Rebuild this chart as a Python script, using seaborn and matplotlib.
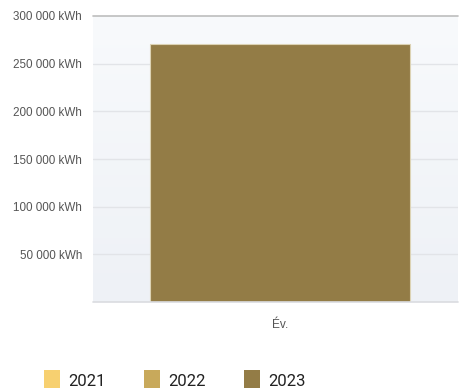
import numpy as np
import pandas as pd
import matplotlib
matplotlib.use("Agg")
import matplotlib.pyplot as plt
import seaborn as sns
from matplotlib.patches import Rectangle
from matplotlib.colors import LinearSegmentedColormap

categories = ["Év."]
years = ["2021", "2022", "2023"]
values_2021 = [0]
values_2022 = [0]
values_2023 = [270500]
colors = ["#F7D070", "#C8A95B", "#937C46"]
yticks = [50000, 100000, 150000, 200000, 250000, 300000]
ytick_labels = ["50 000 kWh", "100 000 kWh", "150 000 kWh", "200 000 kWh", "250 000 kWh", "300 000 kWh"]

rows = []
for y, vals in zip(years, [values_2021, values_2022, values_2023]):
    for c, v in zip(categories, vals):
        rows.append({"cat": c, "year": y, "value": v})
df = pd.DataFrame(rows)

sns.set_style("white")
plt.rcParams['font.family'] = ['Liberation Sans', 'DejaVu Sans']

W, H = 459, 388
fig = plt.figure(figsize=(W / 100, H / 100), dpi=100)
left, right, top, bottom = 93, 458, 16, 302
ax = fig.add_axes([left / W, 1 - bottom / H, (right - left) / W, (bottom - top) / H])

# gradient background
grad = np.linspace(0, 1, 256).reshape(-1, 1)
cmap = LinearSegmentedColormap.from_list("bg", ["#F8FAFC", "#EEF1F6"])
off = 0.012
ax.imshow(grad, aspect="auto", cmap=cmap, extent=(-0.5 - off, 0.5 - off, 0, 300000),
          origin="upper", zorder=0)

sns.barplot(data=df, x="cat", y="value", hue="year", hue_order=years, palette=colors,
            saturation=1, dodge=False, width=0.712, ax=ax, legend=False, zorder=3,
            edgecolor="#DCD3B4", linewidth=0.8)

ax.set_xlim(-0.5 - off, 0.5 - off)
ax.set_ylim(0, 300000)
for yv in yticks[:-1]:
    ax.axhline(yv, color="#E2E4E8", lw=1, zorder=1)
ax.axhline(300000, color="#BDBDBD", lw=1.2, zorder=4, clip_on=False)
ax.axhline(0, color="#DADCE0", lw=1.2, zorder=4, clip_on=False)

for s in ax.spines.values():
    s.set_visible(False)
ax.set_yticks(yticks)
ax.set_yticklabels(ytick_labels, fontsize=8.4, color="#555555")
ax.tick_params(axis="y", length=0, pad=8)
ax.tick_params(axis="x", length=0, pad=12, labelsize=8.6, labelcolor="#555555")
ax.set_xlabel("")
ax.set_ylabel("")

# legend
for i, (y, c) in enumerate(zip(years, colors)):
    x0 = 44 + i * 100
    fig.add_artist(Rectangle((x0 / W, 1 - 388 / H), 16 / W, 18 / H, transform=fig.transFigure,
                             facecolor=c, edgecolor="none"))
    fig.text((x0 + 24) / W, 1 - 385.5 / H, y, fontsize=12, color="#222222",
             family=["Roboto", "DejaVu Sans"], va="baseline", ha="left")

fig.savefig("out.png", dpi=100)
